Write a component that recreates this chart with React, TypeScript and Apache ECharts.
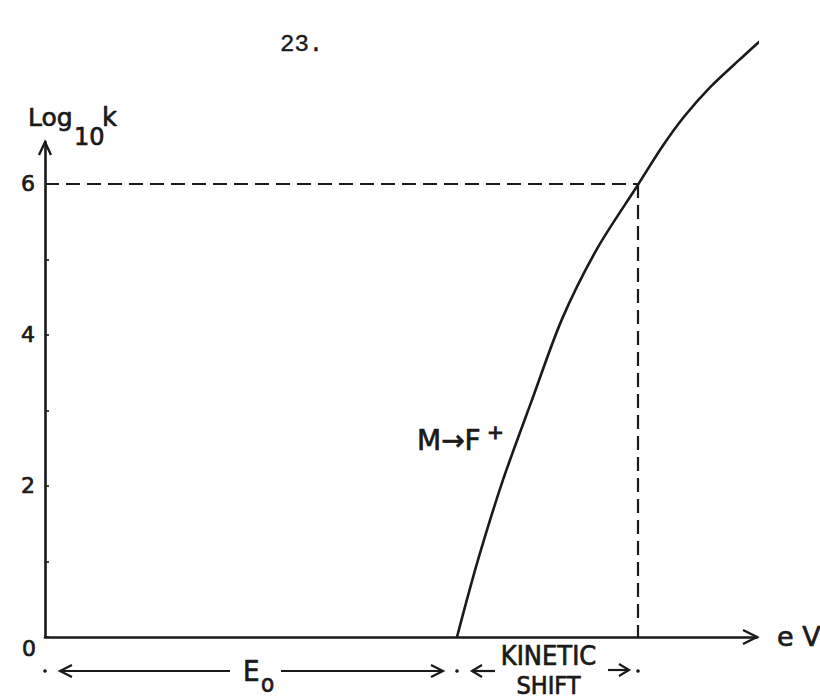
import React, { useEffect, useRef } from "react";
import * as echarts from "echarts";

// curve M -> F+ : x in arbitrary energy units (eV axis), y = log10 k
const curveX = [4.12, 4.33, 4.58, 4.87, 5.17, 5.52, 5.93, 6.17, 6.39, 6.65, 6.94, 7.22, 7.48];
const curveY = [0, 1.02, 2.08, 3.14, 4.21, 5.14, 5.99, 6.49, 6.89, 7.28, 7.64, 7.97, 8.21];
const yTicks = [0, 1, 2, 3, 4, 5, 6];
const yLabels = [2, 4, 6];
const originLabel = "0";
const E0 = 4.12; // threshold energy
const kineticEnd = 5.93; // energy where log10 k = 6
const levelY = 6;
const xMax = 7.12;
const yMax = 6.556;

const INK = "#1a1a1a";
const FONT = '"DejaVu Sans", "Noto Sans", sans-serif';
const CFONT = '"DejaVu Sans Condensed", "DejaVu Sans", sans-serif';

export default function App() {
  const ref = useRef<HTMLDivElement>(null);
  useEffect(() => {
    if (!ref.current) return;
    const chart = echarts.init(ref.current, null, { renderer: "svg" });
    chart.setOption({
      animation: false,
      backgroundColor: "#ffffff",
      grid: { left: 45, right: 63, top: 142, bottom: 61 },
      xAxis: {
        type: "value",
        min: 0,
        max: xMax,
        axisLine: { show: true, lineStyle: { color: INK, width: 2.6 } },
        axisTick: { show: false },
        axisLabel: { show: false },
        splitLine: { show: false },
      },
      yAxis: {
        type: "value",
        min: 0,
        max: yMax,
        axisLine: { show: true, lineStyle: { color: INK, width: 2.6 } },
        axisTick: {
          show: true,
          inside: true,
          length: 4,
          customValues: yTicks,
          lineStyle: { color: INK, width: 1.6 },
        },
        axisLabel: {
          show: true,
          customValues: yLabels,
          margin: 10,
          color: INK,
          fontSize: 22,
          fontFamily: FONT,
          textBorderColor: INK,
          textBorderWidth: 0.7,
        },
        splitLine: { show: false },
      },
      series: [
        {
          type: "line",
          data: curveX.map((x, i) => [x, curveY[i]]),
          smooth: 0.3,
          symbol: "none",
          clip: false,
          lineStyle: { color: INK, width: 2.6 },
          markLine: {
            silent: true,
            symbol: ["none", "none"],
            label: { show: false },
            lineStyle: { color: INK, width: 2.2, type: [14, 7] },
            data: [
              [{ coord: [0, levelY] }, { coord: [kineticEnd, levelY] }],
              [{ coord: [kineticEnd, levelY] }, { coord: [kineticEnd, 0] }],
            ],
          },
        },
      ],
    });

    const px = (x: number, y: number) => chart.convertToPixel({ gridIndex: 0 }, [x, y]) as number[];
    const origin = px(0, 0);
    const xEnd = px(xMax, 0);
    const yEnd = px(0, yMax);
    const e0 = px(E0, 0);
    const ke = px(kineticEnd, 0);
    const rowY = origin[1] + 34;

    const line = (x1: number, y1: number, x2: number, y2: number, w = 2.2) => ({
      type: "line",
      shape: { x1, y1, x2, y2 },
      style: { stroke: INK, lineWidth: w },
    });
    const chevron = (pts: number[][], w = 2.2) => ({
      type: "polyline",
      shape: { points: pts },
      style: { stroke: INK, fill: "none", lineWidth: w },
    });
    const dot = (cx: number, cy: number) => ({
      type: "circle",
      shape: { cx, cy, r: 1.8 },
      style: { fill: INK },
    });
    const text = (
      t: string,
      x: number,
      y: number,
      size: number,
      align = "left",
      family = FONT,
      lineHeight?: number,
      bold = 0.7
    ) => ({
      type: "text",
      x,
      y,
      style: {
        text: t,
        fontSize: size,
        fontFamily: family,
        fill: INK,
        stroke: bold ? INK : undefined,
        lineWidth: bold,
        align,
        verticalAlign: "middle",
        ...(lineHeight ? { lineHeight } : {}),
      },
    });

    chart.setOption({
      graphic: [
        // origin label, set below the axis as in the reference
        text(originLabel, origin[0] - 16, origin[1] + 11, 22, "center"),
        // axis arrowheads
        chevron([
          [xEnd[0] - 14, xEnd[1] - 7],
          [xEnd[0], xEnd[1]],
          [xEnd[0] - 14, xEnd[1] + 7],
        ], 2.4),
        chevron([
          [yEnd[0] - 6, yEnd[1] + 13],
          [yEnd[0], yEnd[1]],
          [yEnd[0] + 6, yEnd[1] + 13],
        ], 2.4),
        text("e V", xEnd[0] + 20, xEnd[1] - 1, 27),
        // y label Log10k
        text("Log", 28, 117, 25),
        text("10", 74, 137, 24),
        text("k", 102, 117, 26),
        // page number
        text("23.", 280, 44.5, 24, "left", '"Liberation Mono", "DejaVu Sans Mono", monospace', undefined, 0.4),
        // curve label
        text("M\u2192F", 417, 440, 28),
        text("+", 487, 432, 20, "left", FONT, undefined, 1),
        // bottom E0 arrow
        dot(origin[0], rowY),
        line(origin[0] + 15, rowY, 230, rowY),
        chevron([
          [origin[0] + 27, rowY - 6],
          [origin[0] + 15, rowY],
          [origin[0] + 27, rowY + 6],
        ]),
        text("E", 243, rowY, 29, "left", CFONT, 26),
        text("o", 261, rowY + 13, 24, "left", CFONT, 20),
        line(281, rowY, e0[0] - 14, rowY),
        chevron([
          [e0[0] - 26, rowY - 6],
          [e0[0] - 14, rowY],
          [e0[0] - 26, rowY + 6],
        ]),
        dot(e0[0], rowY),
        // kinetic shift
        line(e0[0] + 15, rowY, e0[0] + 38, rowY),
        chevron([
          [e0[0] + 25, rowY - 6],
          [e0[0] + 15, rowY],
          [e0[0] + 25, rowY + 6],
        ]),
        text("KINETIC", (e0[0] + ke[0]) / 2 + 1, rowY - 16, 27, "center", CFONT, 24),
        text("SHIFT", (e0[0] + ke[0]) / 2 + 1, rowY + 14, 25, "center", CFONT, 20),
        line(ke[0] - 30, rowY - 1, ke[0] - 9, rowY - 1),
        chevron([
          [ke[0] - 19, rowY - 7],
          [ke[0] - 9, rowY - 1],
          [ke[0] - 19, rowY + 5],
        ]),
        dot(ke[0], rowY),
      ],
    });

    return () => chart.dispose();
  }, []);

  return (
    <div
      ref={ref}
      style={{ position: "absolute", left: 0, top: 0, width: 820, height: 698, background: "#fff" }}
    />
  );
}
